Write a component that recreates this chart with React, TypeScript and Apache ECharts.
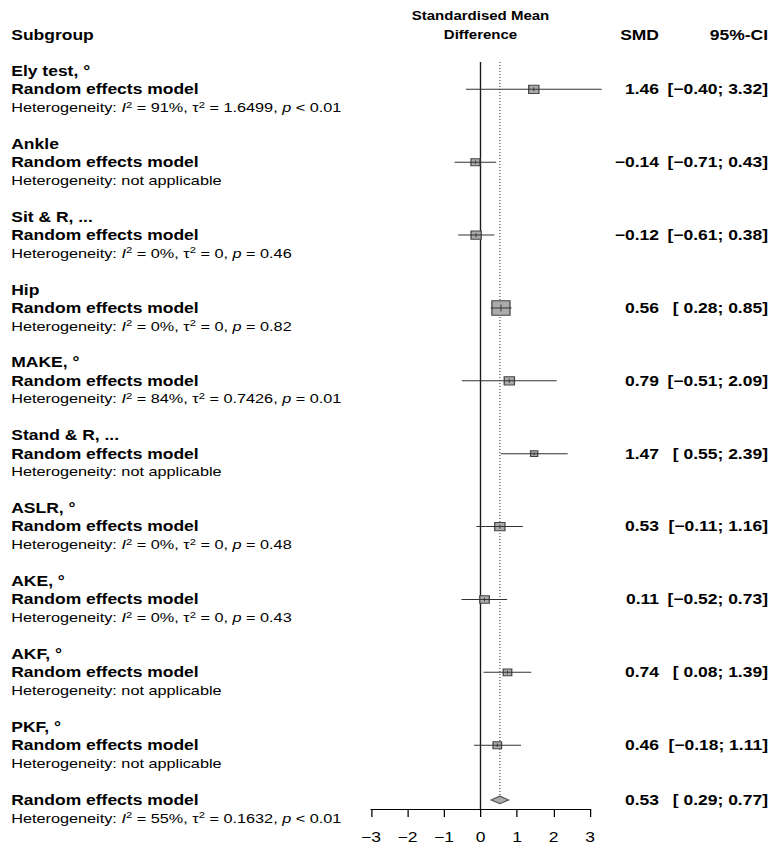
import React, { useEffect, useRef } from "react";
import * as echarts from "echarts";

// ---------- data ----------
const subgroups = [
  "Ely test, °",
  "Ankle",
  "Sit & R, ...",
  "Hip",
  "MAKE, °",
  "Stand & R, ...",
  "ASLR, °",
  "AKE, °",
  "AKF, °",
  "PKF, °",
];
const smd = [1.46, -0.14, -0.12, 0.56, 0.79, 1.47, 0.53, 0.11, 0.74, 0.46];
const ciLower = [-0.4, -0.71, -0.61, 0.28, -0.51, 0.55, -0.11, -0.52, 0.08, -0.18];
const ciUpper = [3.32, 0.43, 0.38, 0.85, 2.09, 2.39, 1.16, 0.73, 1.39, 1.11];
const weights = [9.4, 7.1, 9.4, 29.5, 9.4, 4.6, 9.4, 8.1, 6.5, 6.5];
const hetI2 = ["91%", null, "0%", "0%", "84%", null, "0%", "0%", null, null];
const hetTau2 = ["1.6499", null, "0", "0", "0.7426", null, "0", "0", null, null];
const hetP = ["< 0.01", null, "= 0.46", "= 0.82", "= 0.01", null, "= 0.48", "= 0.43", null, null];

const overallSmd = 0.53;
const overallLower = 0.29;
const overallUpper = 0.77;
const overallI2 = "55%";
const overallTau2 = "0.1632";
const overallP = "< 0.01";

const modelLabel = "Random effects model";
const headerSubgroup = "Subgroup";
const effectLabel = ["Standardised Mean", "Difference"];
const columnLabels = ["SMD", "95%-CI"];
const xTicks = [-3, -2, -1, 0, 1, 2, 3];

// ---------- layout / style ----------
const STRETCH = 1.25;
const W = 780;
const H = 853;
const CW = W / STRETCH;
const FONT = '"Liberation Sans", Arial, Helvetica, sans-serif';
const X_LEFT = 9;
const X_SMD_RIGHT = 659 / STRETCH;
const X_CI_RIGHT = 768 / STRETCH;
const SQUARE_K = 2.67;
const ROWS_PER_GROUP = 4;
const OVERALL_ROW = subgroups.length * ROWS_PER_GROUP;

const MINUS = "\u2212";
const fmtNum = (v: number) => (v < 0 ? MINUS : "") + Math.abs(v).toFixed(2);
const fmtCI = (lo: number, hi: number) =>
  "[" + (lo < 0 ? MINUS : " ") + Math.abs(lo).toFixed(2) + "; " + fmtNum(hi) + "]";
const hetText = (i2: string | null, tau2: string | null, p: string | null) =>
  i2 == null
    ? "Heterogeneity: not applicable"
    : "Heterogeneity: {it|I}{sup|2} = " + i2 + ", τ{sup|2} = " + tau2 + ", {it|p} " + p;

const rich = {
  it: { fontFamily: FONT, fontSize: 13, fontStyle: "italic", fill: "#000", lineHeight: 15 },
  sup: { fontFamily: FONT, fontSize: 9, fill: "#000", lineHeight: 7, verticalAlign: "top" },
};

function txt(
  x: number,
  y: number,
  text: string,
  bold: boolean,
  align: "left" | "right" | "center",
  size?: number,
  withRich?: boolean
) {
  const style: any = {
    text,
    fill: "#000",
    fontFamily: FONT,
    fontSize: size ?? (bold ? 14 : 13),
    fontWeight: bold ? "bold" : "normal",
    align,
    textAlign: align,
    verticalAlign: "middle",
    textVerticalAlign: "middle",
    lineHeight: 15,
  };
  if (withRich) style.rich = rich;
  return { type: "text", x, y, style, silent: true };
}

function buildOption(): any {
  const groupData = subgroups.map((_, i) => [
    smd[i],
    ciLower[i],
    ciUpper[i],
    i * ROWS_PER_GROUP,
    weights[i],
  ]);

  return {
    animation: false,
    backgroundColor: "#fff",
    grid: { left: 371 / STRETCH, right: CW - 590 / STRETCH, top: 62, bottom: H - 809, containLabel: false },
    xAxis: {
      type: "value",
      min: xTicks[0],
      max: xTicks[xTicks.length - 1],
      interval: 1,
      position: "bottom",
      axisLine: { show: true, onZero: false, lineStyle: { color: "#000", width: 1 } },
      axisTick: { show: true, inside: false, length: 8, lineStyle: { color: "#000", width: 1 } },
      axisLabel: {
        show: true,
        margin: 21,
        fontFamily: FONT,
        fontSize: 14,
        color: "#000",
        formatter: (v: number) => (v < 0 ? MINUS + Math.abs(v) : String(v)),
      },
      splitLine: { show: false },
    },
    yAxis: {
      type: "value",
      inverse: true,
      min: -0.5,
      max: OVERALL_ROW + 0.5,
      show: false,
      splitLine: { show: false },
    },
    series: [
      {
        type: "custom",
        name: "overall",
        clip: false,
        silent: true,
        encode: { x: [0, 1, 2], y: 3 },
        data: [[overallSmd, overallLower, overallUpper, OVERALL_ROW]],
        renderItem: (params: any, api: any) => {
          const est = api.value(0);
          const lo = api.value(1);
          const hi = api.value(2);
          const row = api.value(3);
          const c = api.coord([est, row]);
          const pl = api.coord([lo, row]);
          const ph = api.coord([hi, row]);
          const half = 3.7;
          const zeroTop = api.coord([0, -0.5]);
          const zeroBottom = api.coord([0, row + 0.5]);
          const estTop = api.coord([est, -0.5]);
          const yH0 = api.coord([0, -3])[1];
          const yH1 = api.coord([0, -2])[1];
          const yHet = api.coord([0, row + 1])[1];
          return {
            type: "group",
            children: [
              {
                type: "line",
                shape: { x1: zeroTop[0], y1: zeroTop[1], x2: zeroBottom[0], y2: zeroBottom[1] },
                style: { stroke: "#1a1a1a", lineWidth: 1.1 },
              },
              {
                type: "line",
                shape: { x1: estTop[0], y1: estTop[1], x2: c[0], y2: c[1] - half },
                style: { stroke: "#555", lineWidth: 1, lineDash: [1, 2] },
              },
              {
                type: "polygon",
                shape: {
                  points: [
                    [pl[0], c[1]],
                    [c[0], c[1] - half],
                    [ph[0], c[1]],
                    [c[0], c[1] + half],
                  ],
                },
                style: { fill: "#ababab", stroke: "#4d4d4d", lineWidth: 1 },
              },
              txt(X_LEFT, c[1], modelLabel, true, "left"),
              txt(X_LEFT, yHet, hetText(overallI2, overallTau2, overallP), false, "left", 13, true),
              txt(X_SMD_RIGHT, c[1], fmtNum(est), true, "right"),
              txt(X_CI_RIGHT, c[1], fmtCI(lo, hi), true, "right"),
              txt(zeroTop[0], yH0, effectLabel[0], true, "center", 12),
              txt(zeroTop[0], yH1, effectLabel[1], true, "center", 12),
              txt(X_LEFT, yH1, headerSubgroup, true, "left"),
              txt(X_SMD_RIGHT, yH1, columnLabels[0], true, "right"),
              txt(X_CI_RIGHT, yH1, columnLabels[1], true, "right"),
            ],
          };
        },
      },
      {
        type: "custom",
        name: "subgroups",
        clip: false,
        silent: true,
        encode: { x: [0, 1, 2], y: 3 },
        data: groupData,
        renderItem: (params: any, api: any) => {
          const i = params.dataIndex;
          const est = api.value(0);
          const lo = api.value(1);
          const hi = api.value(2);
          const row = api.value(3);
          const w = api.value(4);
          const c = api.coord([est, row + 1]);
          const pl = api.coord([lo, row + 1]);
          const ph = api.coord([hi, row + 1]);
          const s = SQUARE_K * Math.sqrt(w);
          const yTitle = api.coord([0, row])[1];
          const yHet = api.coord([0, row + 2])[1];
          return {
            type: "group",
            children: [
              {
                type: "rect",
                shape: { x: c[0] - s / 2, y: c[1] - s / 2, width: s, height: s },
                style: { fill: "#ababab", stroke: "#444", lineWidth: 1 },
              },
              {
                type: "line",
                shape: { x1: pl[0], y1: c[1], x2: ph[0], y2: c[1] },
                style: { stroke: "#333", lineWidth: 1 },
              },
              {
                type: "line",
                shape: { x1: c[0], y1: c[1] - s * 0.25, x2: c[0], y2: c[1] + s * 0.25 },
                style: { stroke: "#333", lineWidth: 0.8 },
              },
              txt(X_LEFT, yTitle, subgroups[i], true, "left"),
              txt(X_LEFT, c[1], modelLabel, true, "left"),
              txt(X_LEFT, yHet, hetText(hetI2[i], hetTau2[i], hetP[i]), false, "left", 13, true),
              txt(X_SMD_RIGHT, c[1], fmtNum(est), true, "right"),
              txt(X_CI_RIGHT, c[1], fmtCI(lo, hi), true, "right"),
            ],
          };
        },
      },
    ],
  };
}

export default function App() {
  const ref = useRef<HTMLDivElement>(null);
  useEffect(() => {
    document.body.style.margin = "0";
    if (!ref.current) return;
    const chart = echarts.init(ref.current, null, { renderer: "svg" });
    chart.setOption(buildOption());
    return () => {
      chart.dispose();
    };
  }, []);
  return (
    <div
      style={{
        position: "absolute",
        left: 0,
        top: 0,
        width: W,
        height: H,
        overflow: "hidden",
        background: "#fff",
      }}
    >
      <div
        ref={ref}
        style={{
          width: CW,
          height: H,
          transform: `scaleX(${STRETCH})`,
          transformOrigin: "0 0",
        }}
      />
    </div>
  );
}
